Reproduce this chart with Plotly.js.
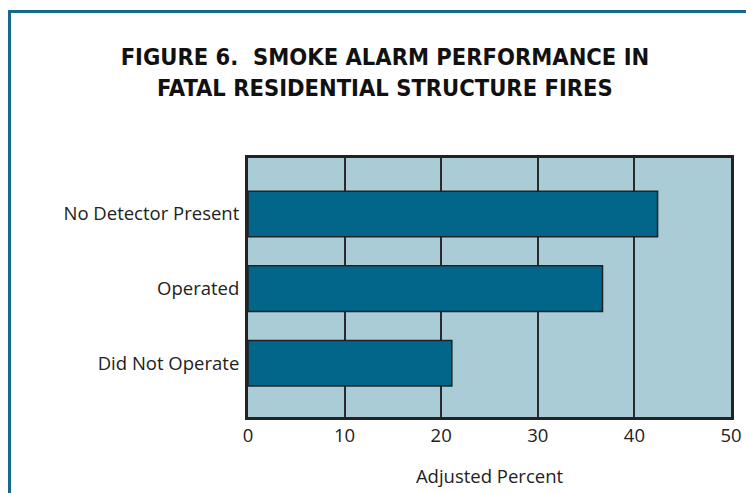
<!DOCTYPE html>
<html>
<head>
<meta charset="utf-8">
<script src="https://cdn.plot.ly/plotly-3.0.1.min.js"></script>
<style>
  html, body { margin: 0; padding: 0; background: #ffffff; }
  #wrap { position: relative; width: 746px; height: 493px; overflow: hidden; }
  #chart { position: absolute; left: 0; top: 0; width: 746px; height: 493px; }
  #frame { position: absolute; left: 8px; top: 10px; width: 760px; height: 500px;
           border-top: 3px solid #17698c; border-left: 3px solid #17698c; pointer-events: none; }
</style>
</head>
<body>
<div id="wrap">
  <div id="chart"></div>
  <div id="frame"></div>
</div>
<script>
const categories = ["Did Not Operate", "Operated", "No Detector Present"];
const values = [21.1, 36.7, 42.4];
const xTicks = [0, 10, 20, 30, 40, 50];
const chartTitle = "FIGURE 6.  SMOKE ALARM PERFORMANCE IN<br>FATAL RESIDENTIAL STRUCTURE FIRES";
const xTitle = "Adjusted Percent";

const trace = {
  type: "bar",
  orientation: "h",
  x: values,
  y: categories,
  marker: { color: "#02658a", line: { color: "#222222", width: 1.5 } },
  hoverinfo: "none"
};

const layout = {
  width: 746,
  height: 493,
  margin: { l: 248, r: 15, t: 158, b: 76 },
  paper_bgcolor: "#ffffff",
  plot_bgcolor: "#a9ccd7",
  showlegend: false,
  bargap: 0.39,
  font: { family: "Open Sans, Liberation Sans, Arial, sans-serif", color: "#222222" },
  title: {
    text: chartTitle,
    font: { family: "DejaVu Sans Condensed, Liberation Sans, sans-serif", size: 23.5, weight: "bold", color: "#111111" },
    xref: "container", x: 0.516, xanchor: "center",
    yref: "container", y: 1 - 65 / 493, yanchor: "top"
  },
  xaxis: {
    range: [0, 50],
    tickvals: xTicks,
    ticktext: xTicks.map(String),
    showgrid: true,
    gridcolor: "#2a2a2a",
    gridwidth: 2,
    zeroline: false,
    showline: true,
    mirror: true,
    linecolor: "#222222",
    linewidth: 3,
    ticks: "",
    tickfont: { size: 18.5, color: "#222222" },
    title: { text: xTitle, font: { size: 18.5, color: "#222222" }, standoff: 24 },
    fixedrange: true
  },
  yaxis: {
    type: "category",
    range: [-0.72, 2.75],
    showgrid: false,
    zeroline: false,
    showline: true,
    mirror: true,
    linecolor: "#222222",
    linewidth: 3,
    ticks: "outside",
    ticklen: 2,
    tickcolor: "rgba(0,0,0,0)",
    tickfont: { size: 18.5, color: "#222222" },
    fixedrange: true
  }
};

Plotly.newPlot("chart", [trace], layout, { displayModeBar: false, staticPlot: true });
</script>
</body>
</html>
